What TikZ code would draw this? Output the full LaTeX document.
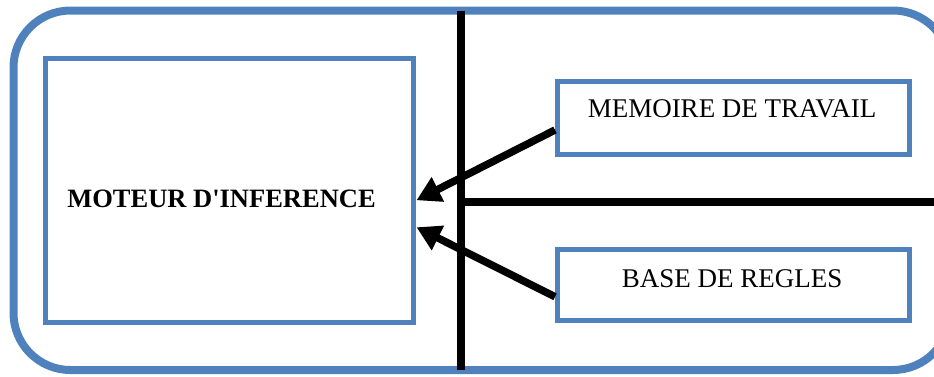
\documentclass[tikz,border=0pt]{standalone}
\usepackage{fontspec}
\setmainfont{Liberation Serif}[Ligatures=TeXOff]
\usetikzlibrary{arrows.meta,calc}
\definecolor{ofblue}{RGB}{79,129,189}
\begin{document}
\begin{tikzpicture}[x=1pt,y=-1pt,
  outerbox/.style={draw=ofblue,line width=8pt,rounded corners=57pt},
  box/.style={draw=ofblue,line width=5pt,rectangle,inner sep=0pt},
  txt/.style={font=\fontsize{27}{31}\selectfont,inner sep=0pt},
  sep/.style={draw=black,line width=7.5pt},
  arr/.style={draw=black,line width=7.5pt,-{Triangle[length=24pt,width=26pt]}}]
\useasboundingbox (0,0) rectangle (934,376);
\clip (0,0) rectangle (934,376);
\draw[outerbox] (13.5,10.5) rectangle (950,370);
\node[box,minimum width=368pt,minimum height=263.5pt] (mot) at (229,190.25) {};
\node[box,minimum width=352pt,minimum height=73pt] (mem) at (733.5,118) {};
\node[box,minimum width=352pt,minimum height=70.5pt] (base) at (733.5,284.75) {};
\node[txt,font=\fontsize{26.5}{30}\selectfont\bfseries] (tmot) at (221.5,198.5) {MOTEUR D'INFERENCE};
\node[txt] (tmem) at (732,109) {MEMOIRE DE TRAVAIL};
\node[txt] (tbase) at (732,279) {BASE DE REGLES};
\coordinate (vtop) at (461,10.5);
\coordinate (vbot) at (461,370);
\coordinate (hl) at (461,202);
\coordinate (hr) at (950,202);
\draw[sep] (vtop) -- (vbot);
\draw[sep] (hl) -- (hr);
\draw[arr] ($(mem.west)+(0,12)$) -- ($(mot.east)+(1,10)$);
\draw[arr] ($(base.west)+(0,12)$) -- ($(mot.east)+(1,37)$);
\end{tikzpicture}
\end{document}
